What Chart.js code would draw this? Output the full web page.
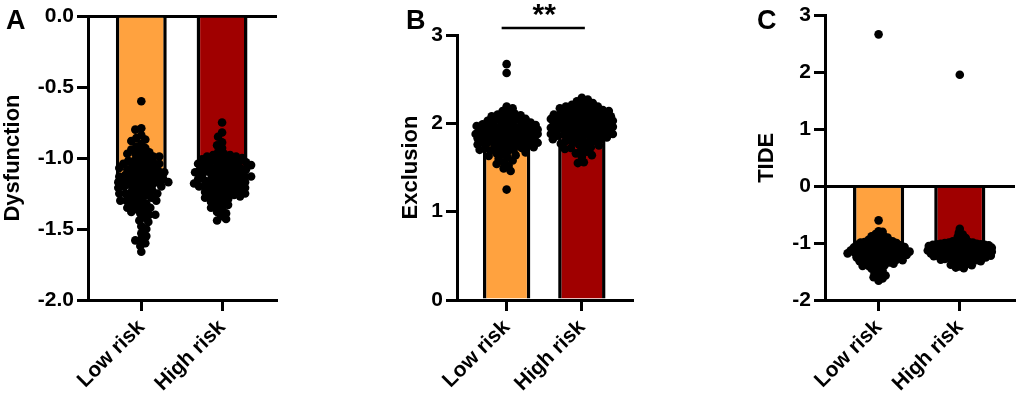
<!DOCTYPE html>
<html>
<head>
<meta charset="utf-8">
<script src="https://cdn.jsdelivr.net/npm/chart.js@4.4.1/dist/chart.umd.min.js"></script>
<style>
  body { margin: 0; background: #fff; }
  #wrap { position: relative; width: 1020px; height: 400px; }
  canvas { position: absolute; top: 0; }
</style>
</head>
<body>
<div id="wrap">
  <canvas id="cA" width="340" height="400" style="left:0px"></canvas>
  <canvas id="cB" width="340" height="400" style="left:340px"></canvas>
  <canvas id="cC" width="340" height="400" style="left:680px"></canvas>
</div>
<script>
const groups = ["Low risk", "High risk"];
const COLOR = ["#FFA23F", "#A00000"];

// bar heights (group means)
const dysMean = [-1.155, -1.125];
const excMean = [1.87, 1.90];
const tideMean = [-1.07, -1.07];

// individual samples
const dysLow = [-0.60, -0.79, -0.80, -0.84, -0.86, -0.87, -0.88, -0.90, -0.92, -0.93, -0.94, -0.95,
  -0.96, -0.97, -0.97, -0.98, -0.99, -0.99, -1.00, -1.01, -1.02, -1.02, -1.03, -1.03, -1.04, -1.04, -1.05,
  -1.06, -1.06, -1.07, -1.07, -1.08, -1.08, -1.09, -1.09, -1.10, -1.10,
  -1.11, -1.11, -1.12, -1.12, -1.13, -1.13, -1.14, -1.14, -1.15, -1.15, -1.15,
  -1.16, -1.16, -1.17, -1.17, -1.17, -1.18, -1.18, -1.19, -1.19, -1.20, -1.20, -1.20,
  -1.21, -1.22, -1.22, -1.23, -1.24, -1.24, -1.25, -1.25, -1.25,
  -1.26, -1.27, -1.28, -1.28, -1.29, -1.30, -1.30, -1.30,
  -1.31, -1.32, -1.33, -1.34, -1.35, -1.35, -1.36, -1.37, -1.38, -1.39, -1.40, -1.40,
  -1.42, -1.44, -1.45, -1.48, -1.50, -1.53, -1.55, -1.57, -1.58, -1.60, -1.62, -1.66];
const dysHigh = [-0.75, -0.82, -0.85, -0.89, -0.91, -0.93,
  -0.96, -0.97, -0.98, -0.98, -0.99, -0.99, -1.00, -1.00,
  -1.01, -1.01, -1.02, -1.02, -1.03, -1.03, -1.03, -1.04, -1.04, -1.05, -1.05, -1.05,
  -1.06, -1.06, -1.07, -1.07, -1.08, -1.08, -1.08, -1.09, -1.09, -1.10, -1.10, -1.10,
  -1.11, -1.11, -1.12, -1.12, -1.13, -1.13, -1.13, -1.14, -1.14, -1.15, -1.15, -1.15,
  -1.16, -1.16, -1.17, -1.17, -1.18, -1.18, -1.18, -1.19, -1.19, -1.20, -1.20, -1.20,
  -1.21, -1.21, -1.22, -1.22, -1.23, -1.23, -1.24, -1.24, -1.25, -1.25,
  -1.26, -1.26, -1.27, -1.27, -1.28, -1.28, -1.29, -1.30,
  -1.31, -1.32, -1.33, -1.34, -1.35, -1.36, -1.38, -1.39, -1.41, -1.43, -1.44];
const excLow = [2.67, 2.57, 2.17, 2.19, 2.11, 2.12, 2.14, 2.06, 2.07, 2.08, 2.09, 2.10,
  2.01, 2.01, 2.02, 2.03, 2.04, 2.04, 2.05, 1.96, 1.96, 1.97, 1.97, 1.98, 1.98, 1.99, 1.99, 2.00,
  1.91, 1.91, 1.92, 1.92, 1.93, 1.93, 1.94, 1.94, 1.95, 1.95, 1.95,
  1.86, 1.86, 1.86, 1.87, 1.87, 1.88, 1.88, 1.88, 1.89, 1.89, 1.90, 1.90, 1.90,
  1.81, 1.81, 1.82, 1.82, 1.83, 1.83, 1.84, 1.84, 1.85, 1.85, 1.85,
  1.76, 1.76, 1.77, 1.78, 1.78, 1.79, 1.79, 1.80, 1.80,
  1.71, 1.72, 1.72, 1.73, 1.74, 1.74, 1.75, 1.75, 1.66, 1.67, 1.68, 1.69, 1.70, 1.70,
  1.61, 1.63, 1.64, 1.65, 1.56, 1.58, 1.60, 1.52, 1.54, 1.46, 1.49, 1.25];
const excHigh = [2.29, 2.27, 2.21, 2.22, 2.23, 2.25, 2.16, 2.17, 2.18, 2.19, 2.19, 2.20,
  2.11, 2.12, 2.12, 2.13, 2.14, 2.14, 2.15, 2.15,
  2.06, 2.06, 2.07, 2.07, 2.08, 2.08, 2.09, 2.09, 2.10, 2.10,
  2.01, 2.01, 2.02, 2.02, 2.03, 2.03, 2.03, 2.04, 2.04, 2.05, 2.05, 2.05,
  1.96, 1.96, 1.97, 1.97, 1.98, 1.98, 1.98, 1.99, 1.99, 2.00, 2.00,
  1.91, 1.91, 1.92, 1.92, 1.93, 1.93, 1.94, 1.94, 1.95, 1.95,
  1.86, 1.86, 1.87, 1.87, 1.88, 1.88, 1.89, 1.89, 1.90,
  1.81, 1.82, 1.82, 1.83, 1.84, 1.85, 1.85, 1.76, 1.77, 1.78, 1.79, 1.80, 1.80,
  1.71, 1.72, 1.73, 1.74, 1.75, 1.66, 1.68, 1.69, 1.62, 1.64, 1.55, 1.56];
// TIDE shows the same spread as Dysfunction plus one outlier per group
const tideLow = [2.67].concat(dysLow);
const tideHigh = [1.96].concat(dysHigh);

const FONT = "'Liberation Sans', Arial, sans-serif";
Chart.defaults.font.family = FONT;
Chart.defaults.font.weight = "bold";
Chart.defaults.color = "#000";

// spread the dots sideways so they don't pile up (beeswarm)
function swarm(values, g, chart, minD, maxOff) {
  const ys = chart.scales.y, xs = chart.scales.x;
  const cx = xs.getPixelForValue(g);
  const step = 1;
  const pts = values.map(v => ({ v: v, py: ys.getPixelForValue(v) })).sort((a, b) => a.py - b.py);
  const placed = [];
  pts.forEach(p => {
    let best = 0, bestD = -1;
    for (let k = 0; k * step <= maxOff; k++) {
      const offs = k === 0 ? [0] : (placed.length % 2 ? [k * step, -k * step] : [-k * step, k * step]);
      let done = false;
      for (const off of offs) {
        let d = Infinity;
        placed.forEach(q => {
          const dy = q.py - p.py;
          if (Math.abs(dy) < minD) d = Math.min(d, Math.hypot(q.px - off, dy));
        });
        if (d >= minD) { best = off; done = true; break; }
        if (d > bestD) { bestD = d; best = off; }
      }
      if (done) break;
    }
    p.px = best;
    placed.push(p);
  });
  return placed.map(p => ({ x: xs.getValueForPixel(cx + p.px), y: p.v }));
}

const extras = {
  id: "extras",
  afterDraw(chart, args, o) {
    const ctx = chart.ctx;
    ctx.save();
    ctx.fillStyle = "#000";
    ctx.font = "bold 27px " + FONT;
    ctx.textBaseline = "alphabetic";
    ctx.textAlign = "left";
    ctx.fillText(o.letter, o.lx, 29);
    if (o.sig) {
      const x = chart.scales.x;
      const y = chart.chartArea.top - 7;
      ctx.strokeStyle = "#000";
      ctx.lineWidth = 2.5;
      ctx.beginPath();
      ctx.moveTo(x.getPixelForValue(0) - 5, y);
      ctx.lineTo(x.getPixelForValue(1) + 3, y);
      ctx.stroke();
      ctx.font = "bold 30px " + FONT;
      ctx.textAlign = "center";
      ctx.fillText(o.sig, (x.getPixelForValue(0) + x.getPixelForValue(1)) / 2, y - 4);
    }
    ctx.restore();
  }
};

function panel(id, p) {
  const chart = new Chart(document.getElementById(id), {
    data: {
      datasets: [
        {
          type: "scatter", order: 0, data: [],
          pointRadius: 4.3, pointBackgroundColor: "#000", pointBorderWidth: 0, clip: false
        },
        {
          type: "bar", order: 1,
          data: p.means.map((m, i) => ({ x: i, y: m })),
          backgroundColor: COLOR, borderColor: "#000", borderWidth: 3.5,
          categoryPercentage: 1, barPercentage: 0.63
        }
      ]
    },
    options: {
      responsive: false,
      animation: false,
      layout: { padding: { left: 0, right: p.padRight, top: p.top, bottom: 0 } },
      plugins: { legend: { display: false }, tooltip: { enabled: false }, extras: p.extra },
      scales: {
        x: {
          type: "linear", min: -0.66, max: 1.68, offset: false,
          afterBuildTicks: s => { s.ticks = groups.map((g, i) => ({ value: i })); },
          grid: { offset: false, drawOnChartArea: false, tickLength: 11, tickWidth: 3, tickColor: "#000" },
          border: { color: "#000", width: 3 },
          ticks: {
            color: "#000", font: { size: 21, weight: "bold" }, minRotation: 45, maxRotation: 45, padding: 4,
            callback: v => groups[v]
          },
          afterFit: s => { s.height = 100; }
        },
        y: {
          min: p.min, max: p.max,
          ticks: { stepSize: p.step, color: "#000", font: { size: 21, weight: "bold" }, padding: 3, callback: p.fmt },
          grid: {
            color: c => (c.tick && c.tick.value === 0 ? "#000" : "rgba(0,0,0,0)"),
            lineWidth: 3, tickColor: "#000", tickLength: 11, tickWidth: 3
          },
          border: { color: "#000", width: 3 },
          title: { display: true, text: p.title, color: "#000", font: { size: 22, weight: "bold" }, padding: { top: p.titlePad, bottom: 0 } },
          afterFit: s => { s.width = p.axisW; }
        }
      }
    },
    plugins: [extras]
  });
  chart.data.datasets[0].data = swarm(p.low, 0, chart, p.minD, p.maxOff)
    .concat(swarm(p.high, 1, chart, p.minD, p.maxOff));
  chart.update("none");
  return chart;
}

panel("cA", {
  means: dysMean, low: dysLow, high: dysHigh, min: -2, max: 0, step: 0.5,
  fmt: v => v.toFixed(1), title: "Dysfunction", axisW: 88, titlePad: 0, padRight: 63, top: 16,
  minD: 5.6, maxOff: 31, extra: { letter: "A", lx: 6 }
});
panel("cB", {
  means: excMean, low: excLow, high: excHigh, min: 0, max: 3, step: 1,
  fmt: v => v, title: "Exclusion", axisW: 117, titlePad: 58, padRight: 47, top: 35,
  minD: 5.4, maxOff: 31, extra: { letter: "B", lx: 66, sig: "**" }
});
panel("cC", {
  means: tideMean, low: tideLow, high: tideHigh, min: -2, max: 3, step: 1,
  fmt: v => v, title: "TIDE", axisW: 145, titlePad: 74, padRight: 5, top: 15,
  minD: 4, maxOff: 32, extra: { letter: "C", lx: 77 }
});
</script>
</body>
</html>
